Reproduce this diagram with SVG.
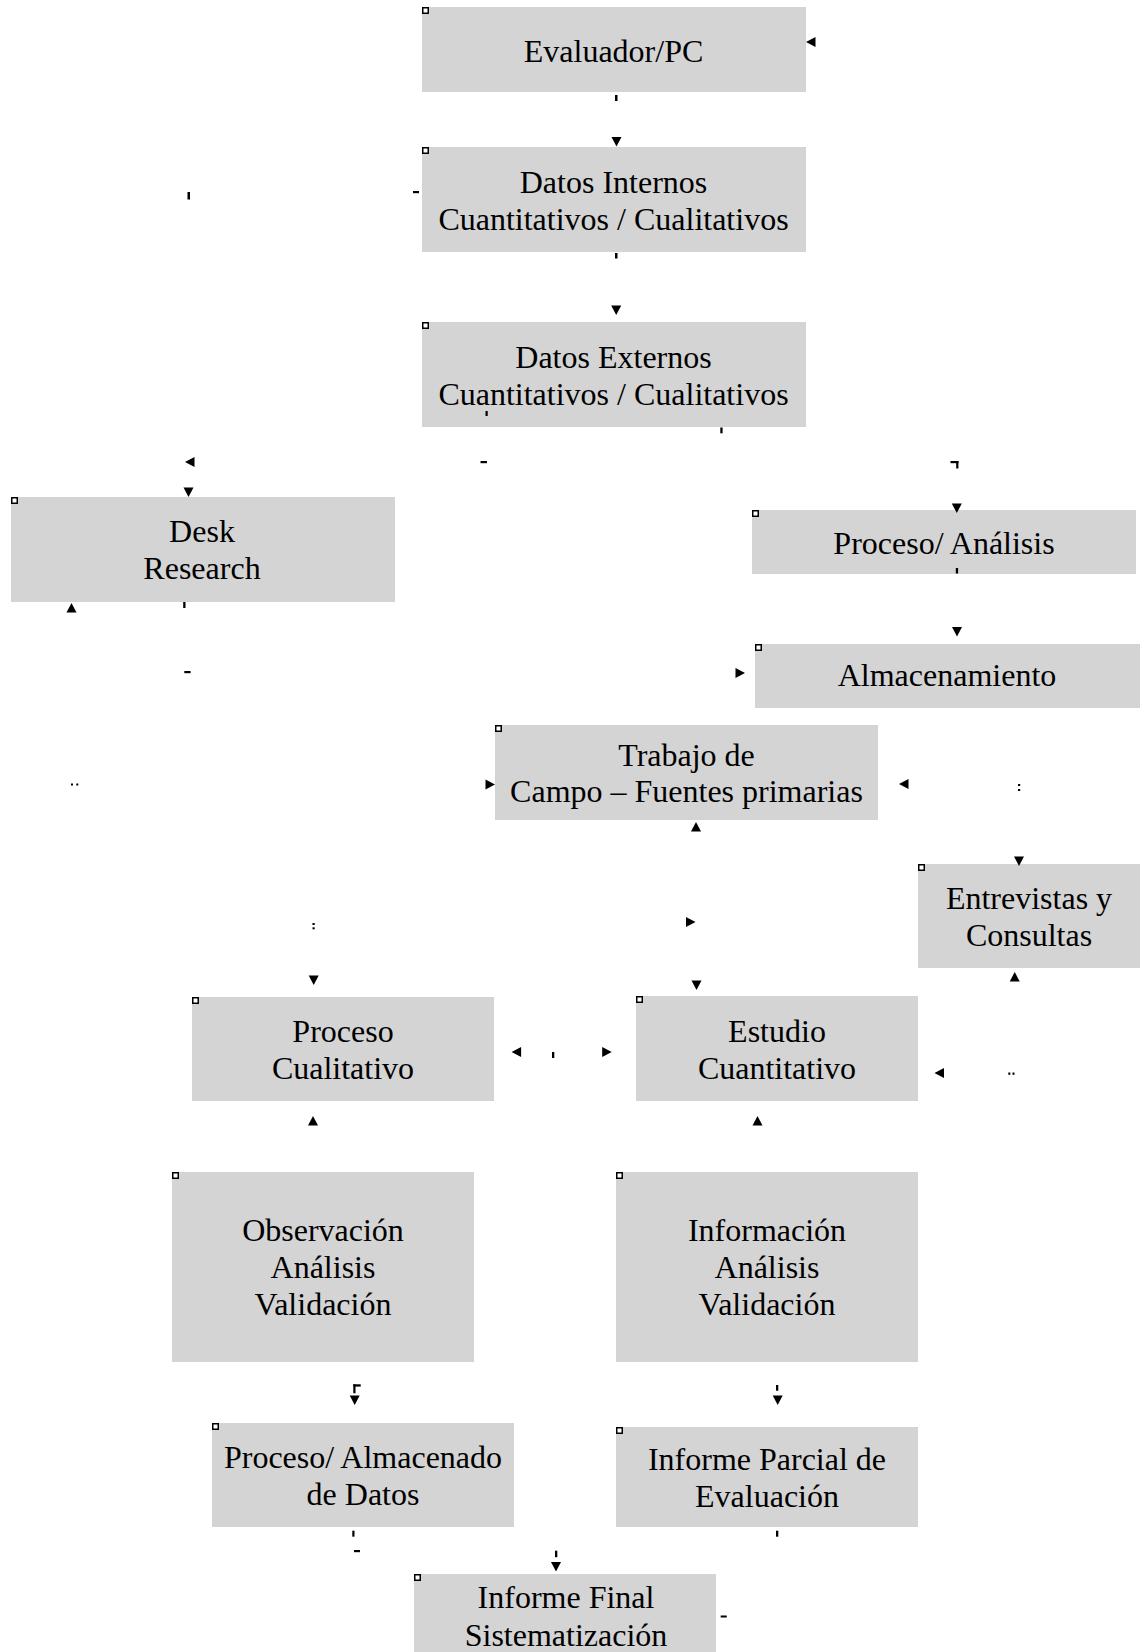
<svg xmlns="http://www.w3.org/2000/svg" xmlns:xlink="http://www.w3.org/1999/xlink" width="1140" height="1652" viewBox="0 0 1140 1652">
<style>
.box{fill:#d4d4d4;stroke:none}
.mk{fill:#ffffff;stroke:#000000;stroke-width:1.5}
.lbl{font-family:"Liberation Serif","Times New Roman",serif;font-size:32px;fill:#000000;text-anchor:middle}
.ah{fill:#000000}
.tk{fill:#000000}
</style>
<defs>
<path id="ad" d="M-5,-9.5 L5,-9.5 L0,0 Z"/>
<path id="au" d="M-5,9.5 L5,9.5 L0,0 Z"/>
<path id="al" d="M9.5,-5 L9.5,5 L0,0 Z"/>
<path id="ar" d="M-9.5,-5 L-9.5,5 L0,0 Z"/>
</defs>
<rect width="1140" height="1652" fill="#ffffff"/>

<g id="n1">
<rect class="box" x="422" y="7" width="384" height="85"/>
<rect class="mk" x="422.75" y="7.75" width="5.5" height="5.5"/>
<text class="lbl" x="613.5" y="62">Evaluador/PC</text>
</g>
<g id="n2">
<rect class="box" x="422" y="147" width="384" height="105"/>
<rect class="mk" x="422.75" y="147.75" width="5.5" height="5.5"/>
<text class="lbl" x="613.5" y="192.5">Datos Internos</text>
<text class="lbl" x="613.5" y="230">Cuantitativos / Cualitativos</text>
</g>
<g id="n3">
<rect class="box" x="422" y="322" width="384" height="105"/>
<rect class="mk" x="422.75" y="322.75" width="5.5" height="5.5"/>
<text class="lbl" x="613.5" y="368">Datos Externos</text>
<text class="lbl" x="613.5" y="404.5">Cuantitativos / Cualitativos</text>
</g>
<g id="n4">
<rect class="box" x="11" y="497" width="384" height="105"/>
<rect class="mk" x="11.75" y="497.75" width="5.5" height="5.5"/>
<text class="lbl" x="202" y="542">Desk</text>
<text class="lbl" x="202" y="579">Research</text>
</g>
<g id="n5">
<rect class="box" x="752" y="510" width="384" height="64"/>
<rect class="mk" x="752.75" y="510.75" width="5.5" height="5.5"/>
<text class="lbl" x="944" y="553.5">Proceso/ Análisis</text>
</g>
<g id="n6">
<rect class="box" x="755" y="644" width="385" height="64"/>
<rect class="mk" x="755.75" y="644.75" width="5.5" height="5.5"/>
<text class="lbl" x="947" y="686">Almacenamiento</text>
</g>
<g id="n7">
<rect class="box" x="495" y="725" width="383" height="95"/>
<rect class="mk" x="495.75" y="725.75" width="5.5" height="5.5"/>
<text class="lbl" x="686.5" y="766">Trabajo de</text>
<text class="lbl" x="686.5" y="802">Campo – Fuentes primarias</text>
</g>
<g id="n8">
<rect class="box" x="918" y="864" width="222" height="104"/>
<rect class="mk" x="918.75" y="864.75" width="5.5" height="5.5"/>
<text class="lbl" x="1029" y="908.5">Entrevistas y</text>
<text class="lbl" x="1029" y="945.5">Consultas</text>
</g>
<g id="n9">
<rect class="box" x="192" y="997" width="302" height="104"/>
<rect class="mk" x="192.75" y="997.75" width="5.5" height="5.5"/>
<text class="lbl" x="343" y="1042">Proceso</text>
<text class="lbl" x="343" y="1079">Cualitativo</text>
</g>
<g id="n10">
<rect class="box" x="636" y="996" width="282" height="105"/>
<rect class="mk" x="636.75" y="996.75" width="5.5" height="5.5"/>
<text class="lbl" x="777" y="1042">Estudio</text>
<text class="lbl" x="777" y="1079">Cuantitativo</text>
</g>
<g id="n11">
<rect class="box" x="172" y="1172" width="302" height="190"/>
<rect class="mk" x="172.75" y="1172.75" width="5.5" height="5.5"/>
<text class="lbl" x="323" y="1241">Observación</text>
<text class="lbl" x="323" y="1278">Análisis</text>
<text class="lbl" x="323" y="1314.5">Validación</text>
</g>
<g id="n12">
<rect class="box" x="616" y="1172" width="302" height="190"/>
<rect class="mk" x="616.75" y="1172.75" width="5.5" height="5.5"/>
<text class="lbl" x="767" y="1241">Información</text>
<text class="lbl" x="767" y="1278">Análisis</text>
<text class="lbl" x="767" y="1314.5">Validación</text>
</g>
<g id="n13">
<rect class="box" x="212" y="1423" width="302" height="104"/>
<rect class="mk" x="212.75" y="1423.75" width="5.5" height="5.5"/>
<text class="lbl" x="363" y="1468">Proceso/ Almacenado</text>
<text class="lbl" x="363" y="1505">de Datos</text>
</g>
<g id="n14">
<rect class="box" x="616" y="1427" width="302" height="100"/>
<rect class="mk" x="616.75" y="1427.75" width="5.5" height="5.5"/>
<text class="lbl" x="767" y="1470">Informe Parcial de</text>
<text class="lbl" x="767" y="1507">Evaluación</text>
</g>
<g id="n15">
<rect class="box" x="414" y="1574" width="302" height="82"/>
<rect class="mk" x="414.75" y="1574.75" width="5.5" height="5.5"/>
<text class="lbl" x="566" y="1607.5">Informe Final</text>
<text class="lbl" x="566" y="1645.5">Sistematización</text>
</g>

<g id="connectors">
<use class="ah" xlink:href="#al" x="806" y="42"/>
<use class="ah" xlink:href="#ad" x="616.5" y="146.5"/>
<use class="ah" xlink:href="#ad" x="616.2" y="315"/>
<use class="ah" xlink:href="#al" x="185" y="462"/>
<use class="ah" xlink:href="#ad" x="188.5" y="497"/>
<use class="ah" xlink:href="#au" x="71.5" y="603"/>
<use class="ah" xlink:href="#ad" x="956.8" y="513"/>
<use class="ah" xlink:href="#ad" x="957" y="636.5"/>
<use class="ah" xlink:href="#ar" x="745" y="673"/>
<use class="ah" xlink:href="#ar" x="495" y="784.5"/>
<use class="ah" xlink:href="#al" x="899" y="784"/>
<use class="ah" xlink:href="#ad" x="1019" y="866"/>
<use class="ah" xlink:href="#au" x="696" y="822"/>
<use class="ah" xlink:href="#ar" x="695.5" y="922"/>
<use class="ah" xlink:href="#ad" x="696.5" y="990"/>
<use class="ah" xlink:href="#ad" x="313.7" y="985"/>
<use class="ah" xlink:href="#al" x="511.6" y="1052"/>
<use class="ah" xlink:href="#ar" x="611.7" y="1052"/>
<use class="ah" xlink:href="#al" x="934.5" y="1073"/>
<use class="ah" xlink:href="#au" x="1014.7" y="972"/>
<use class="ah" xlink:href="#au" x="313" y="1116"/>
<use class="ah" xlink:href="#au" x="757.5" y="1116"/>
<use class="ah" xlink:href="#ad" x="354.7" y="1405"/>
<use class="ah" xlink:href="#ad" x="777.7" y="1405"/>
<use class="ah" xlink:href="#ad" x="556" y="1571.5"/>

<rect class="tk" x="615" y="95" width="2.5" height="6"/>
<rect class="tk" x="615" y="253" width="2.5" height="5.5"/>
<rect class="tk" x="413" y="191" width="6" height="2.2"/>
<rect class="tk" x="187.5" y="192" width="2.5" height="7.5"/>
<rect class="tk" x="485.5" y="411" width="2.2" height="5"/>
<rect class="tk" x="720.3" y="427.5" width="2.3" height="5.8"/>
<rect class="tk" x="480.5" y="461" width="6.5" height="2.2"/>
<rect class="tk" x="950.5" y="461" width="8" height="2.2"/>
<rect class="tk" x="956.2" y="461" width="2.2" height="7.5"/>
<rect class="tk" x="955.8" y="568" width="2.3" height="5.5"/>
<rect class="tk" x="183.2" y="602" width="2.3" height="6"/>
<rect class="tk" x="184.3" y="671" width="6.3" height="2.2"/>
<rect class="tk" x="71" y="783.5" width="2" height="2"/>
<rect class="tk" x="76.3" y="783.5" width="2" height="2"/>
<rect class="tk" x="312.5" y="923" width="2.2" height="2"/>
<rect class="tk" x="312.5" y="927.3" width="2.2" height="2"/>
<rect class="tk" x="1018" y="784" width="2.2" height="2"/>
<rect class="tk" x="1018" y="789" width="2.2" height="2"/>
<rect class="tk" x="552" y="1052" width="2.3" height="6"/>
<rect class="tk" x="1008.3" y="1072.5" width="2" height="2.3"/>
<rect class="tk" x="1012.5" y="1072.5" width="2" height="2.3"/>
<rect class="tk" x="353.3" y="1384.3" width="2.2" height="9"/>
<rect class="tk" x="353.3" y="1384.3" width="7.4" height="2.3"/>
<rect class="tk" x="776" y="1385" width="2.3" height="5.7"/>
<rect class="tk" x="352.3" y="1530.7" width="2.2" height="6"/>
<rect class="tk" x="354" y="1550" width="6" height="2.2"/>
<rect class="tk" x="776" y="1530.7" width="2.3" height="6"/>
<rect class="tk" x="555" y="1550.7" width="2.3" height="6.5"/>
<rect class="tk" x="720.7" y="1615.5" width="6" height="2"/>
</g>
</svg>
